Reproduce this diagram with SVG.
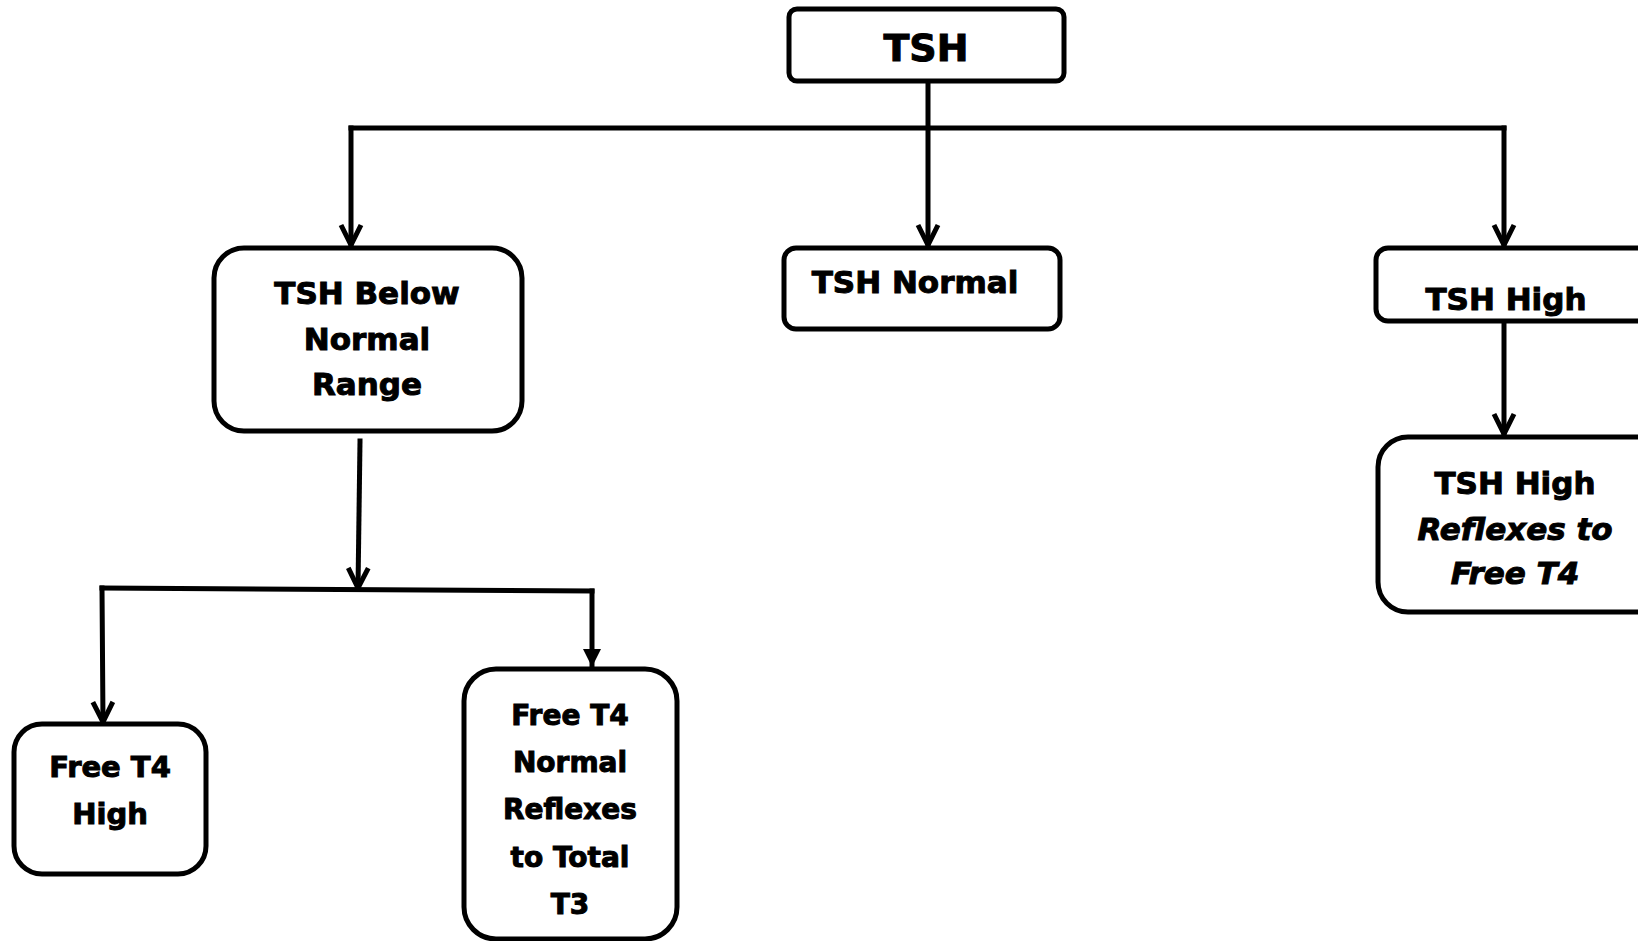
<svg xmlns="http://www.w3.org/2000/svg" width="1638" height="941" viewBox="0 0 1638 941">
<style>
.box{fill:#fff;stroke:#000;stroke-width:5}
.t{font-family:"DejaVu Sans",sans-serif;font-weight:bold;fill:#000;stroke:#000;stroke-width:1;text-anchor:middle}
.i{font-style:italic}
.c{fill:none;stroke:#000;stroke-width:5;stroke-linecap:square}
</style>
<defs>
<marker id="vo" markerUnits="userSpaceOnUse" viewBox="-24 -14 28 28" refX="0" refY="0" markerWidth="28" markerHeight="28" orient="auto">
<path d="M-20,-10 L0,0 L-20,10" fill="none" stroke="#000" stroke-width="5" stroke-linejoin="miter"/>
</marker>
<marker id="tri" markerUnits="userSpaceOnUse" viewBox="-24 -14 28 28" refX="0" refY="0" markerWidth="28" markerHeight="28" orient="auto">
<path d="M-18,-9 L0,0 L-18,9 Z" fill="#000"/>
</marker>
</defs>
<rect width="1638" height="941" fill="#fff"/>
<g id="connectors">
<path class="c" d="M928,82 V245" marker-end="url(#vo)"/>
<path class="c" d="M351,128 H1504"/>
<path class="c" d="M351,128 V245" marker-end="url(#vo)"/>
<path class="c" d="M1504,128 V245" marker-end="url(#vo)"/>
<path class="c" d="M1504,321 V434" marker-end="url(#vo)"/>
<path class="c" d="M360,441 L358,588" marker-end="url(#vo)"/>
<path class="c" d="M102,588 L592,591"/>
<path class="c" d="M102,588 L103,722" marker-end="url(#vo)"/>
<path class="c" d="M592,591 V667" marker-end="url(#tri)"/>
</g>
<g id="tsh">
<rect class="box" x="789" y="9" width="275" height="72" rx="8"/>
<text class="t" x="926" y="61" font-size="38">TSH</text>
</g>
<g id="tsh-below">
<rect class="box" x="214" y="248" width="308" height="183" rx="30"/>
<text class="t" x="367" y="304" font-size="31">TSH Below</text>
<text class="t" x="367" y="350" font-size="31">Normal</text>
<text class="t" x="367" y="395" font-size="31">Range</text>
</g>
<g id="tsh-normal">
<rect class="box" x="784" y="248" width="276" height="81" rx="12"/>
<text class="t" x="915" y="293" font-size="31">TSH Normal</text>
</g>
<g id="tsh-high">
<rect class="box" x="1376" y="248" width="290" height="73" rx="12"/>
<text class="t" x="1506" y="310" font-size="31">TSH High</text>
</g>
<g id="tsh-high-reflex">
<rect class="box" x="1378" y="437" width="290" height="175" rx="30"/>
<text class="t" x="1515" y="494" font-size="31">TSH High</text>
<text class="t i" x="1515" y="540" font-size="31">Reflexes to</text>
<text class="t i" x="1515" y="584" font-size="31">Free T4</text>
</g>
<g id="free-t4-high">
<rect class="box" x="14" y="724" width="192" height="150" rx="28"/>
<text class="t" x="110" y="777" font-size="29">Free T4</text>
<text class="t" x="110" y="824" font-size="29">High</text>
</g>
<g id="free-t4-normal">
<rect class="box" x="464" y="669" width="213" height="270" rx="32"/>
<text class="t" x="570" y="725" font-size="28">Free T4</text>
<text class="t" x="570" y="772" font-size="28">Normal</text>
<text class="t" x="570" y="819" font-size="28">Reflexes</text>
<text class="t" x="570" y="867" font-size="28">to Total</text>
<text class="t" x="570" y="914" font-size="28">T3</text>
</g>
</svg>
